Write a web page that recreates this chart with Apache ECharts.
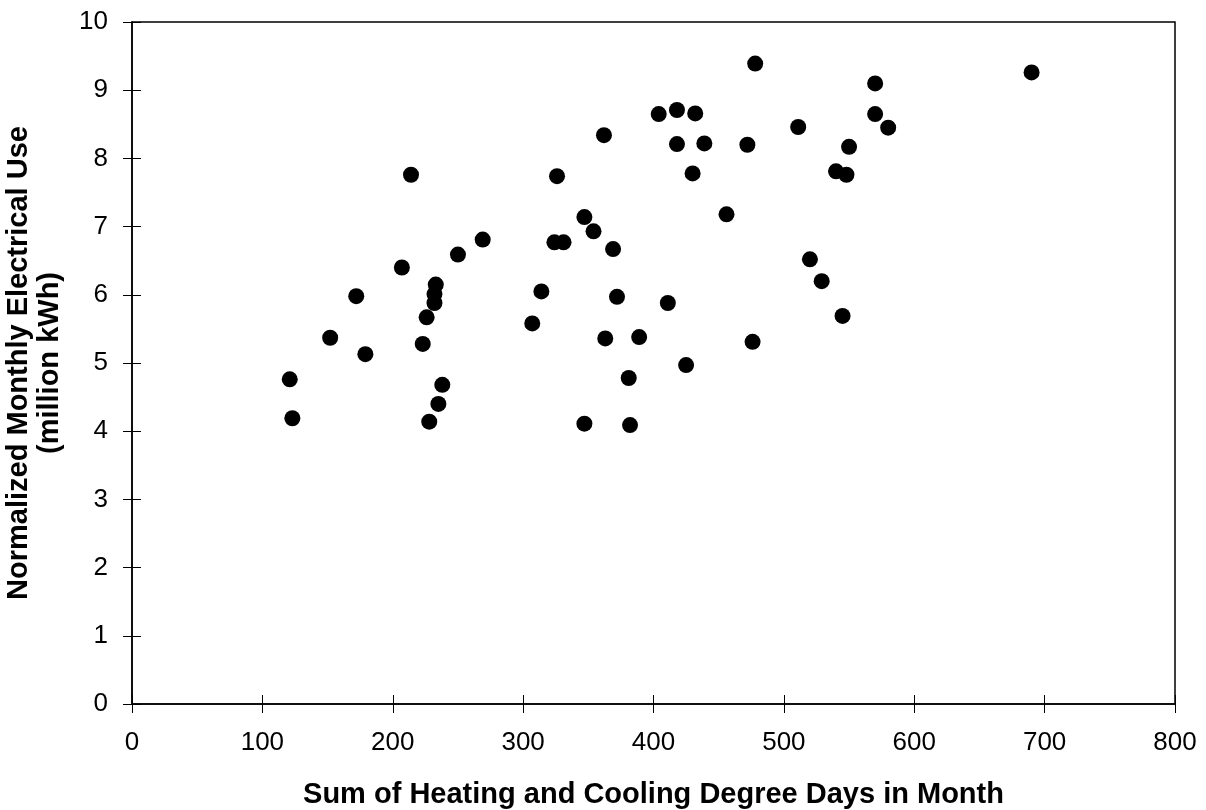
<!DOCTYPE html>
<html>
<head>
<meta charset="utf-8">
<script src="https://cdn.jsdelivr.net/npm/echarts@6/dist/echarts.min.js"></script>
<style>
html,body{margin:0;padding:0;background:#fff;}
#chart{width:1206px;height:810px;}
</style>
</head>
<body>
<div id="chart"></div>
<script>
// Sum of heating and cooling degree days in month
const degreeDays = [214, 269, 250, 207, 233, 232, 232, 172, 226, 152, 223, 179, 121, 238, 235, 123, 228,
  326, 430, 456, 347, 354, 324, 331, 369, 314, 372, 411, 307, 363, 389, 476, 425, 381, 347, 382,
  478, 570, 404, 418, 432, 570, 580, 511, 362, 418, 439, 472, 550, 540, 548, 690, 520, 529, 545];
// Normalized monthly electrical use (million kWh)
const electricUse = [7.76, 6.81, 6.59, 6.40, 6.15, 6.01, 5.88, 5.98, 5.67, 5.37, 5.28, 5.13, 4.76, 4.68, 4.40, 4.19, 4.14,
  7.74, 7.78, 7.18, 7.14, 6.93, 6.77, 6.77, 6.67, 6.05, 5.97, 5.88, 5.58, 5.36, 5.38, 5.31, 4.97, 4.78, 4.11, 4.09,
  9.39, 9.10, 8.65, 8.71, 8.66, 8.65, 8.45, 8.46, 8.34, 8.21, 8.22, 8.20, 8.17, 7.81, 7.76, 9.26, 6.52, 6.20, 5.69];

const xTitle = 'Sum of Heating and Cooling Degree Days in Month';
const yTitle = 'Normalized Monthly Electrical Use\n(million kWh)';

const points = degreeDays.map((d, i) => [d, electricUse[i]]);
const FONT = "'Liberation Sans', Arial, sans-serif";

const chart = echarts.init(document.getElementById('chart'));
chart.setOption({
  animation: false,
  backgroundColor: '#fff',
  grid: {left: 132, top: 22, right: 31, bottom: 106, containLabel: false, outerBoundsMode: 'none',
    show: true, borderColor: '#000', borderWidth: 1.5, backgroundColor: 'transparent'},
  xAxis: [{
    type: 'value', min: 0, max: 800, interval: 100,
    name: xTitle, nameLocation: 'middle', nameGap: 76,
    nameTextStyle: {fontFamily: FONT, fontSize: 29, fontWeight: 'bold', color: '#000'},
    axisLine: {show: true, lineStyle: {color: '#000', width: 1.5}},
    axisTick: {show: true, inside: false, length: 9, lineStyle: {color: '#000', width: 1}},
    axisLabel: {fontFamily: FONT, fontSize: 26, color: '#000', margin: 26},
    splitLine: {show: false}
  }, {
    type: 'value', min: 0, max: 800, interval: 100, position: 'bottom',
    axisLine: {show: false},
    axisTick: {show: true, inside: true, length: 9, lineStyle: {color: '#000', width: 1}},
    axisLabel: {show: false}, splitLine: {show: false}
  }],
  yAxis: [{
    type: 'value', min: 0, max: 10, interval: 1,
    name: yTitle, nameLocation: 'middle', nameGap: 67,
    nameTextStyle: {fontFamily: FONT, fontSize: 29, fontWeight: 'bold', color: '#000', lineHeight: 31},
    axisLine: {show: true, lineStyle: {color: '#000', width: 1.5}},
    axisTick: {show: true, inside: false, length: 9, lineStyle: {color: '#000', width: 1}},
    axisLabel: {fontFamily: FONT, fontSize: 26, color: '#000', margin: 24},
    splitLine: {show: false}
  }, {
    type: 'value', min: 0, max: 10, interval: 1, position: 'left',
    axisLine: {show: false},
    axisTick: {show: true, inside: true, length: 9, lineStyle: {color: '#000', width: 1}},
    axisLabel: {show: false}, splitLine: {show: false}
  }],
  series: [{
    type: 'scatter',
    xAxisIndex: 0, yAxisIndex: 0,
    data: points,
    symbol: 'circle',
    symbolSize: 16,
    itemStyle: {color: '#000', opacity: 1},
    emphasis: {disabled: true}
  }]
});
</script>
</body>
</html>
